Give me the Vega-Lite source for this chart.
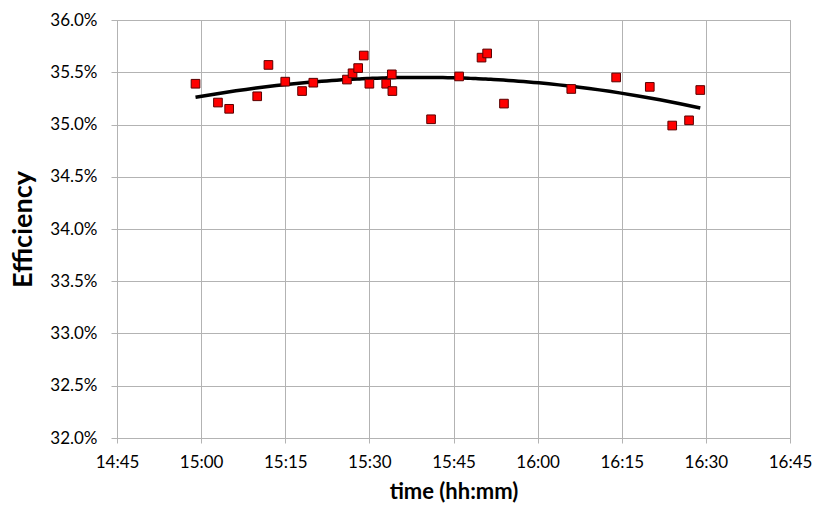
{
  "$schema": "https://vega.github.io/schema/vega-lite/v6.json",
  "width": 673,
  "height": 418,
  "autosize": "none",
  "padding": {"left": 117, "top": 20, "right": 25, "bottom": 68},
  "background": "white",
  "config": {
    "view": {"stroke": "#b3b3b3", "strokeWidth": 1},
    "axis": {
      "labelFont": "Lato",
      "titleFont": "Lato",
      "labelColor": "#000000",
      "titleColor": "#000000",
      "gridColor": "#b3b3b3",
      "domainColor": "#b3b3b3",
      "tickColor": "#b3b3b3",
      "gridWidth": 1,
      "domainWidth": 1
    }
  },
  "data": {
    "values": [
      {"minute": 899, "eff": 0.3539},
      {"minute": 903, "eff": 0.3521},
      {"minute": 905, "eff": 0.3515},
      {"minute": 910, "eff": 0.3527},
      {"minute": 912, "eff": 0.3557},
      {"minute": 915, "eff": 0.3541},
      {"minute": 918, "eff": 0.3532},
      {"minute": 920, "eff": 0.3540},
      {"minute": 926, "eff": 0.3543},
      {"minute": 927, "eff": 0.3549},
      {"minute": 928, "eff": 0.3554},
      {"minute": 929, "eff": 0.3566},
      {"minute": 930, "eff": 0.3539},
      {"minute": 933, "eff": 0.3539},
      {"minute": 934, "eff": 0.3548},
      {"minute": 934.1, "eff": 0.3532},
      {"minute": 941, "eff": 0.3505},
      {"minute": 946, "eff": 0.3546},
      {"minute": 950, "eff": 0.3564},
      {"minute": 951, "eff": 0.3568},
      {"minute": 954, "eff": 0.3520},
      {"minute": 966, "eff": 0.3534},
      {"minute": 974, "eff": 0.3545},
      {"minute": 980, "eff": 0.3536},
      {"minute": 984, "eff": 0.3499},
      {"minute": 987, "eff": 0.3504},
      {"minute": 989, "eff": 0.3533}
    ]
  },
  "encoding": {
    "x": {
      "field": "minute",
      "type": "quantitative",
      "scale": {"domain": [885, 1005], "nice": false, "zero": false},
      "axis": {
        "title": "time (hh:mm)",
        "values": [885, 900, 915, 930, 945, 960, 975, 990, 1005],
        "labelExpr": "floor(datum.value / 60) + ':' + (datum.value % 60 < 10 ? '0' : '') + (datum.value % 60)",
        "labelFontSize": 17,
        "labelPadding": 11,
        "tickSize": 5,
        "titleFontSize": 22,
        "titleFontWeight": "bold",
        "titlePadding": 11,
        "labelFlush": false,
        "labelOverlap": false
      }
    },
    "y": {
      "field": "eff",
      "type": "quantitative",
      "scale": {"domain": [0.32, 0.36], "nice": false, "zero": false},
      "axis": {
        "title": "Efficiency",
        "format": ".1%",
        "values": [0.32, 0.325, 0.33, 0.335, 0.34, 0.345, 0.35, 0.355, 0.36],
        "labelFontSize": 17,
        "labelPadding": 14,
        "tickSize": 6,
        "titleFontSize": 27,
        "titleFontWeight": "bold",
        "titlePadding": 12
      }
    }
  },
  "layer": [
    {
      "transform": [
        {"regression": "eff", "on": "minute", "method": "poly", "order": 2}
      ],
      "mark": {"type": "line", "color": "#000000", "strokeWidth": 3.5}
    },
    {
      "mark": {
        "type": "point",
        "shape": "square",
        "filled": true,
        "size": 75,
        "fill": "#ff0000",
        "stroke": "#5a0000",
        "strokeWidth": 1,
        "opacity": 1
      }
    }
  ]
}
